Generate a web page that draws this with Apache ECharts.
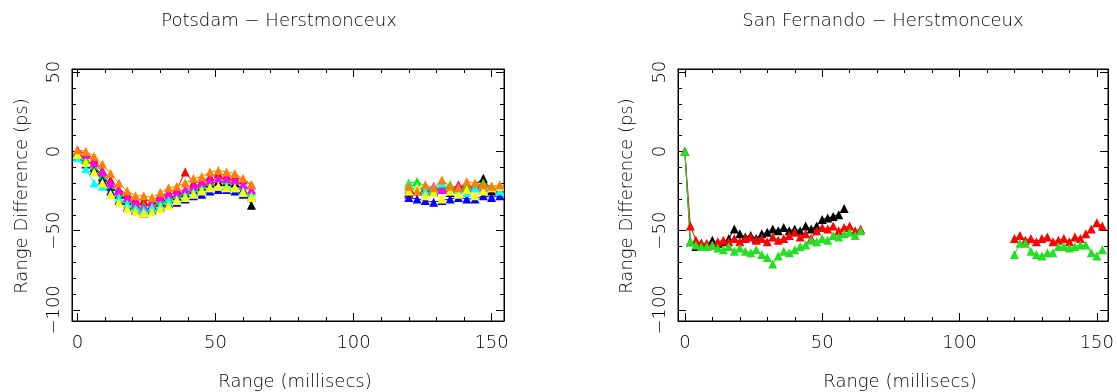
<!DOCTYPE html>
<html>
<head>
<meta charset="utf-8">
<script src="https://cdn.jsdelivr.net/npm/echarts@6/dist/echarts.min.js"></script>
<style>
html,body{margin:0;padding:0;background:#fff;}
#wrap{position:relative;width:1117px;height:392px;background:#fff;}
.layer{position:absolute;left:0;top:0;width:1117px;height:392px;}
</style>
</head>
<body>
<div id="wrap">
  <div id="frame" class="layer"></div>
  <div id="ticks" class="layer"></div>
  <div id="chart" class="layer"></div>
</div>
<script>
// ---------- data ----------
const titles = ['Potsdam \u2212 Herstmonceux', 'San Fernando \u2212 Herstmonceux'];
const xName = 'Range (millisecs)';
const yName = 'Range Difference (ps)';
const xMajorTicks = [0, 50, 100, 150];
const xMinorTicks = [10, 20, 30, 40, 60, 70, 80, 90, 110, 120, 130, 140];
const yMajorTicks = [-100, -50, 0, 50];
const yMinorTicks = [-90, -80, -70, -60, -40, -30, -20, -10, 10, 20, 30, 40];

// Potsdam: x positions of two observation passes
const potsX1 = [0, 3, 6, 9, 12, 15, 18, 21, 24, 27, 30, 33, 36, 39, 42, 45, 48, 51, 54, 57, 60, 63];
const potsX2 = [120, 123, 126, 129, 132, 135, 138, 141, 144, 147, 150, 153];

const potsBlack1   = [-1,-5,-10,-16,-22,-27,-31,-33,-34,-34,-32,-30,-28,-26,-24,-22,-20,-19,-19,-20,-24,-34];
const potsRed1     = [0,-1,-5,-12,-18,-24,-27,-30,-31,-31,-28,-26,-24,-13,-20,-19,-16,-14,-15,-16,-18,-21];
const potsGreen1   = [-1,-5,-9,-15,-21,-26,-30,-34,-34,-33,-31,-29,-27,-25,-23,-21,-19,-17,-18,-18,-21,-25];
const potsBlue1    = [-3,-8,-12,-18,-25,-31,-35,-37,-39,-37,-35,-33,-32,-30,-28,-27,-25,-24,-24,-25,-27,-29];
const potsMagenta1 = [1,-2,-7,-13,-20,-25,-29,-32,-35,-33,-29,-27,-26,-24,-22,-20,-18,-17,-17,-18,-21,-24];
const potsCyan1    = [-4,-11,-20,-22,-27,-29,-33,-36,-37,-35,-34,-31,-30,-28,-26,-24,-23,-22,-22,-23,-25,-28];
const potsYellow1  = [-2,-7,-13,-20,-27,-32,-36,-38,-39,-38,-36,-34,-31,-29,-27,-25,-23,-22,-23,-23,-26,-29];
const potsOrange1  = [1,0,-3,-8,-14,-20,-25,-28,-28,-29,-26,-23,-22,-20,-17,-16,-13,-12,-13,-14,-17,-21];

const potsBlack2   = [-26,-24,-23,-25,-24,-26,-22,-23,-21,-17,-25,-23];
const potsRed2     = [-27,-25,-24,-26,-22,-24,-21,-23,-22,-20,-23,-24];
const potsGreen2   = [-20,-19,-22,-24,-23,-21,-24,-22,-23,-20,-22,-24];
const potsBlue2    = [-29,-30,-31,-32,-31,-30,-29,-30,-30,-28,-29,-28];
const potsMagenta2 = [-24,-23,-25,-22,-24,-23,-22,-24,-21,-23,-22,-23];
const potsCyan2    = [-21,-22,-25,-23,-20,-25,-24,-26,-23,-24,-22,-25];
const potsYellow2  = [-25,-23,-28,-26,-30,-25,-27,-24,-28,-25,-23,-22];
const potsOrange2  = [-22,-25,-21,-23,-18,-22,-23,-19,-20,-21,-22,-21];

// San Fernando
const sfX1 = [0,2,4,6,8,10,12,14,16,18,20,22,24,26,28,30,32,34,36,38,40,42,44,46,48,50,52,54,56,58,60,62,64];
const sfX2 = [120,122,124,126,128,130,132,134,136,138,140,142,144,146,148,150,152];

const sfBlack1 = [0,-57,-60,-58,-60,-56,-58,-57,-55,-49,-52,-54,-53,-55,-52,-51,-49,-50,-48,-50,-49,-50,-47,-49,-47,-43,-42,-41,-40,-36];
const sfRed1   = [0,-47,-56,-58,-58,-59,-57,-56,-57,-55,-57,-55,-54,-56,-55,-57,-54,-56,-55,-53,-51,-54,-52,-55,-50,-48,-49,-47,-50,-48,-47,-50,-49];
const sfGreen1 = [0,-57,-59,-60,-60,-59,-61,-62,-60,-63,-61,-63,-64,-62,-65,-67,-71,-66,-63,-64,-62,-60,-59,-56,-57,-55,-56,-53,-54,-52,-51,-53,-50];

const sfRed2   = [-55,-53,-56,-55,-57,-55,-54,-57,-56,-55,-57,-54,-55,-52,-49,-45,-47];
const sfGreen2 = [-65,-58,-58,-63,-65,-66,-64,-64,-60,-60,-61,-60,-59,-59,-64,-66,-62];

// ---------- layout / style ----------
const FONT = 'DejaVu Sans';
const colors = {
  black: '#000000', red: '#ff0000', green: '#00ee00', blue: '#0000ff',
  magenta: '#ff00ff', cyan: '#00ffff', yellow: '#ffff00', orange: '#ff8000',
  sfgreen: '#22e022'
};
const gridDefs = [[72, 69, 432, 252], [678, 69, 430, 252]];
const xRanges = [[-2, 154.5], [-2.5, 154]];
const yRange = [-107, 52];
const fmt = v => String(v).replace('-', '\u2212');

function pairs(xs, vs) {
  const out = [];
  for (let i = 0; i < vs.length; i++) out.push([xs[i], vs[i]]);
  return out;
}
function plainGrids(withBorder) {
  return gridDefs.map(g => {
    const o = {left: g[0], top: g[1], width: g[2], height: g[3]};
    if (withBorder) { o.show = true; o.borderColor = '#000'; o.borderWidth = 1; }
    return o;
  });
}
function hiddenAxis(gi, isX) {
  return {type: 'value', gridIndex: gi, show: false,
    min: isX ? xRanges[gi][0] : yRange[0], max: isX ? xRanges[gi][1] : yRange[1]};
}

// ---------- layer 1: frame boxes (grid borders) ----------
const frame = echarts.init(document.getElementById('frame'));
frame.setOption({
  animation: false,
  grid: plainGrids(true),
  xAxis: [hiddenAxis(0, true), hiddenAxis(1, true)],
  yAxis: [hiddenAxis(0, false), hiddenAxis(1, false)]
});

// ---------- layer 2: axis lines and inward ticks ----------
function tickAxis(gi, isX, pos, ticks, len, showLine) {
  return {
    type: 'value', gridIndex: gi, position: pos,
    min: isX ? xRanges[gi][0] : yRange[0],
    max: isX ? xRanges[gi][1] : yRange[1],
    splitLine: {show: false},
    axisLine: {show: showLine, onZero: false, lineStyle: {color: '#000', width: 1}},
    axisTick: {show: true, inside: true, length: len, customValues: ticks.slice(), lineStyle: {color: '#000', width: 1}},
    axisLabel: {show: false}
  };
}
const tX = [], tY = [];
[0, 1].forEach(gi => {
  tX.push(tickAxis(gi, true, 'bottom', xMajorTicks, 8, true));
  tX.push(tickAxis(gi, true, 'top', xMajorTicks, 8, true));
  tX.push(tickAxis(gi, true, 'bottom', xMinorTicks, 4, false));
  tX.push(tickAxis(gi, true, 'top', xMinorTicks, 4, false));
  tY.push(tickAxis(gi, false, 'left', yMajorTicks, 8, true));
  tY.push(tickAxis(gi, false, 'right', yMajorTicks, 8, true));
  tY.push(tickAxis(gi, false, 'left', yMinorTicks, 4, false));
  tY.push(tickAxis(gi, false, 'right', yMinorTicks, 4, false));
});
const ticksChart = echarts.init(document.getElementById('ticks'));
ticksChart.setOption({animation: false, grid: plainGrids(false), xAxis: tX, yAxis: tY});

// ---------- layer 3: labels, titles and data ----------
function labelAxis(gi, isX) {
  const ax = {
    type: 'value', gridIndex: gi, position: isX ? 'bottom' : 'left',
    min: isX ? xRanges[gi][0] : yRange[0],
    max: isX ? xRanges[gi][1] : yRange[1],
    splitLine: {show: false},
    axisLine: {show: false, onZero: false},
    axisTick: {show: false},
    axisLabel: {show: true, customValues: (isX ? xMajorTicks : yMajorTicks).slice(), formatter: fmt,
      margin: isX ? 13 : 9, color: '#000', fontFamily: FONT, fontSize: 18, fontWeight: 200}
  };
  if (!isX) ax.axisLabel.rotate = 90;
  return ax;
}

const series = [];
function add(gi, color, xs, vs) {
  series.push({
    type: 'line', xAxisIndex: gi, yAxisIndex: gi, data: pairs(xs, vs),
    symbol: 'triangle', symbolSize: 9,
    lineStyle: {color: color, width: 1}, itemStyle: {color: color}
  });
}
add(0, colors.black, potsX1, potsBlack1);     add(0, colors.black, potsX2, potsBlack2);
add(0, colors.red, potsX1, potsRed1);         add(0, colors.red, potsX2, potsRed2);
add(0, colors.green, potsX1, potsGreen1);     add(0, colors.green, potsX2, potsGreen2);
add(0, colors.blue, potsX1, potsBlue1);       add(0, colors.blue, potsX2, potsBlue2);
add(0, colors.magenta, potsX1, potsMagenta1); add(0, colors.magenta, potsX2, potsMagenta2);
add(0, colors.cyan, potsX1, potsCyan1);       add(0, colors.cyan, potsX2, potsCyan2);
add(0, colors.yellow, potsX1, potsYellow1);   add(0, colors.yellow, potsX2, potsYellow2);
add(0, colors.orange, potsX1, potsOrange1);   add(0, colors.orange, potsX2, potsOrange2);
add(1, colors.black, sfX1, sfBlack1);
add(1, colors.red, sfX1, sfRed1);             add(1, colors.red, sfX2, sfRed2);
add(1, colors.sfgreen, sfX1, sfGreen1);       add(1, colors.sfgreen, sfX2, sfGreen2);

const TFONT = '200 18px "DejaVu Sans"';
function txt(text, x, y, rot) {
  return {type: 'text', x: x, y: y, rotation: rot || 0,
    style: {text: text, x: 0, y: 0, align: 'center', verticalAlign: 'middle', fill: '#000', font: TFONT}};
}

const chart = echarts.init(document.getElementById('chart'));
chart.setOption({
  animation: false,
  grid: plainGrids(false),
  xAxis: [labelAxis(0, true), labelAxis(1, true)],
  yAxis: [labelAxis(0, false), labelAxis(1, false)],
  graphic: [
    txt(titles[0], 279, 21),
    txt(titles[1], 883, 21),
    txt(xName, 295, 382),
    txt(xName, 900, 382),
    txt(yName, 22, 196, Math.PI / 2),
    txt(yName, 627, 196, Math.PI / 2)
  ],
  series: series
});
</script>
</body>
</html>
